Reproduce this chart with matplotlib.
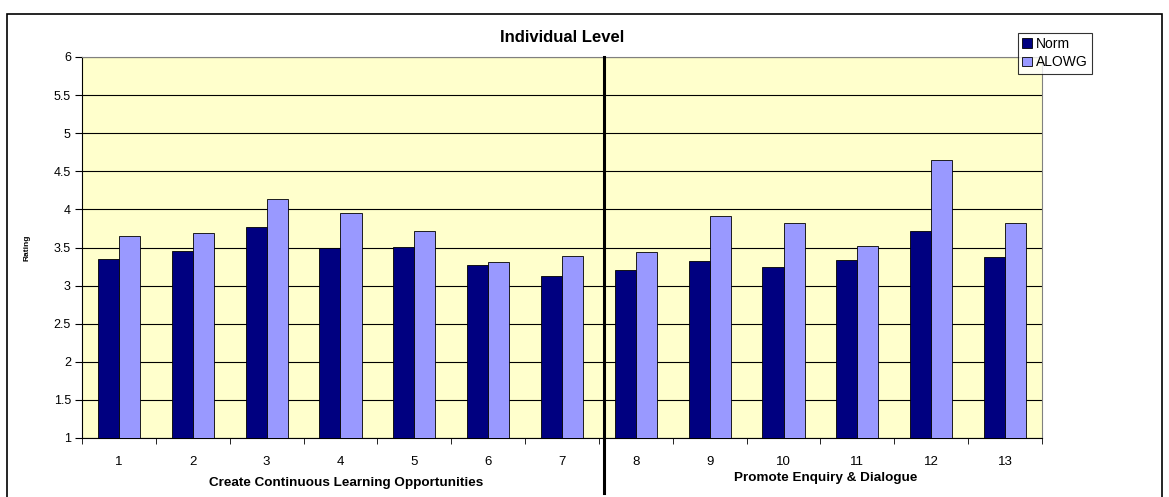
import matplotlib.pyplot as plt
import numpy as np
from matplotlib.patches import Rectangle

plt.rcParams['font.family'] = ['Liberation Sans', 'DejaVu Sans']

items = ["1", "2", "3", "4", "5", "6", "7", "8", "9", "10", "11", "12", "13"]
norm = [3.35, 3.45, 3.77, 3.49, 3.51, 3.27, 3.12, 3.21, 3.32, 3.25, 3.34, 3.71, 3.38]
alowg = [3.65, 3.69, 4.13, 3.95, 3.72, 3.31, 3.39, 3.44, 3.91, 3.82, 3.52, 4.65, 3.82]
groups = ["Create Continuous Learning Opportunities", "Promote Enquiry & Dialogue"]

fig = plt.figure(figsize=(11.69, 4.97), dpi=100)
# outer chart frame
fig.patches.append(Rectangle((7 / 1169, -0.05), 1155 / 1169, 1.05 - 14 / 497,
                             transform=fig.transFigure, fill=False,
                             edgecolor="black", linewidth=1.2))

ax = fig.add_axes([82 / 1169, 59 / 497, 960 / 1169, 381 / 497])
ax.set_facecolor("#FFFFCC")

x = np.arange(len(items))
w = 0.285
ax.bar(x - w / 2, norm, w, color="#000080", edgecolor="black",
       linewidth=0.6, label="Norm", zorder=3)
ax.bar(x + w / 2, alowg, w, color="#9999FF", edgecolor="black",
       linewidth=0.6, label="ALOWG", zorder=3)

ax.set_ylim(1, 6)
ax.set_xlim(-0.5, len(items) - 0.5)
ax.set_yticks(np.arange(1, 6.01, 0.5))
ax.set_yticklabels([f"{v:g}" for v in np.arange(1, 6.01, 0.5)], fontsize=9)
ax.yaxis.grid(True, color="black", linewidth=0.8, zorder=1)
ax.set_axisbelow(True)

ax.set_xticks(x)
ax.set_xticklabels(items, fontsize=9.5)
ax.set_xticks(np.arange(-0.5, len(items), 1), minor=True)
ax.tick_params(axis="x", which="major", length=0, pad=13)
ax.tick_params(axis="x", which="minor", length=4, direction="out")
ax.tick_params(axis="y", length=5, direction="out", pad=3)

for s in ["top", "right"]:
    ax.spines[s].set_color("#808080")
for s in ["left", "bottom"]:
    ax.spines[s].set_color("black")

ax.set_ylabel("Rating", fontsize=6, fontweight="bold", labelpad=17)
ax.set_title("Individual Level", fontsize=12, fontweight="bold", pad=11)

# divider between the two groups
ax.axvline(6.57, ymin=-0.145, ymax=1, color="black", linewidth=2.2,
           clip_on=False, zorder=5)

ax.text(3.07, -0.118, groups[0], transform=ax.get_xaxis_transform(),
        ha="center", va="center", fontsize=9.7, fontweight="bold")
ax.text(9.57, -0.104, groups[1], transform=ax.get_xaxis_transform(),
        ha="center", va="center", fontsize=9.7, fontweight="bold")

leg = ax.legend(loc="upper left", bbox_to_anchor=(1018 / 1169, 1 - 33 / 497),
                bbox_transform=fig.transFigure, fontsize=10, frameon=True,
                fancybox=False, edgecolor="black", handlelength=0.7,
                handleheight=0.7, handletextpad=0.3, borderpad=0.3,
                labelspacing=0.3, borderaxespad=0)
leg.get_frame().set_linewidth(0.8)

fig.savefig("out.png", dpi=100)
